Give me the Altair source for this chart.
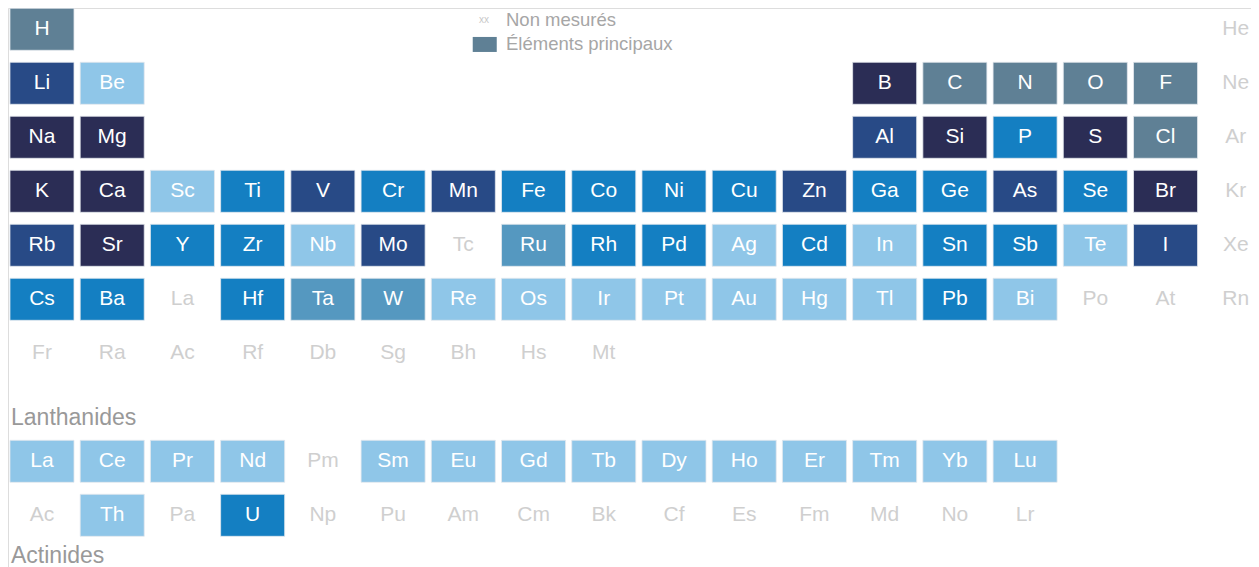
import altair as alt
import pandas as pd

# ---- data -----------------------------------------------------------------
symbols = [
    "H", "He",
    "Li", "Be", "B", "C", "N", "O", "F", "Ne",
    "Na", "Mg", "Al", "Si", "P", "S", "Cl", "Ar",
    "K", "Ca", "Sc", "Ti", "V", "Cr", "Mn", "Fe", "Co", "Ni", "Cu", "Zn", "Ga", "Ge", "As", "Se", "Br", "Kr",
    "Rb", "Sr", "Y", "Zr", "Nb", "Mo", "Tc", "Ru", "Rh", "Pd", "Ag", "Cd", "In", "Sn", "Sb", "Te", "I", "Xe",
    "Cs", "Ba", "La", "Hf", "Ta", "W", "Re", "Os", "Ir", "Pt", "Au", "Hg", "Tl", "Pb", "Bi", "Po", "At", "Rn",
    "Fr", "Ra", "Ac", "Rf", "Db", "Sg", "Bh", "Hs", "Mt",
    "La", "Ce", "Pr", "Nd", "Pm", "Sm", "Eu", "Gd", "Tb", "Dy", "Ho", "Er", "Tm", "Yb", "Lu",
    "Ac", "Th", "Pa", "U", "Np", "Pu", "Am", "Cm", "Bk", "Cf", "Es", "Fm", "Md", "No", "Lr",
]
columns = (
    [1, 18]
    + [1, 2, 13, 14, 15, 16, 17, 18]
    + [1, 2, 13, 14, 15, 16, 17, 18]
    + list(range(1, 19))
    + list(range(1, 19))
    + list(range(1, 19))
    + list(range(1, 10))
    + list(range(1, 16))
    + list(range(1, 16))
)
rows = [1] * 2 + [2] * 8 + [3] * 8 + [4] * 18 + [5] * 18 + [6] * 18 + [7] * 9 + [9] * 15 + [10] * 15
categories = [
    "principal", "nm",
    "c2", "lq", "c1", "principal", "principal", "principal", "principal", "nm",
    "c1", "c1", "c2", "c1", "c3", "c1", "principal", "nm",
    "c1", "c1", "lq", "c3", "c2", "c3", "c2", "c3", "c3", "c3", "c3", "c2", "c3", "c3", "c2", "c3", "c1", "nm",
    "c2", "c1", "c3", "c3", "lq", "c2", "nm", "c4", "c3", "c3", "lq", "c3", "lq", "c3", "c3", "lq", "c2", "nm",
    "c3", "c3", "nm", "c3", "c4", "c4", "lq", "lq", "lq", "lq", "lq", "lq", "lq", "c3", "lq", "nm", "nm", "nm",
    "nm", "nm", "nm", "nm", "nm", "nm", "nm", "nm", "nm",
    "lq", "lq", "lq", "lq", "nm", "lq", "lq", "lq", "lq", "lq", "lq", "lq", "lq", "lq", "lq",
    "nm", "lq", "nm", "c3", "nm", "nm", "nm", "nm", "nm", "nm", "nm", "nm", "nm", "nm", "nm",
]

cat_keys = ["principal", "c1", "c2", "c3", "c4", "lq"]
cat_colors = ["#5f8095", "#2b2d55", "#284a86", "#147fc2", "#5598c0", "#8fc6e8"]

legend_labels = ["< Limite de quantification", "Non mesurés", "Éléments principaux"]
legend_cats = ["lq", "nm", "principal"]
legend_rows = [0.383, 0.828, 1.281]

group_labels = ["Lanthanides", "Actinides"]
group_rows = [8.2, 10.75]

# ---- frames ----------------------------------------------------------------
df = pd.DataFrame({"symbol": symbols, "col": columns, "row": rows, "cat": categories})
df["measured"] = df["cat"] != "nm"

leg = pd.DataFrame({"label": legend_labels, "cat": legend_cats, "row": legend_rows})
grp = pd.DataFrame({"label": group_labels, "row": group_rows})

W, H = 1243, 559
xs = alt.Scale(domain=[0.516, 18.217], nice=False, zero=False)
ys = alt.Scale(domain=[0.606, 10.957], nice=False, zero=False, reverse=True)
cs = alt.Scale(domain=cat_keys, range=cat_colors)

HW, HH = 0.456, 0.389
FONT = "Liberation Sans"

base = alt.Chart(df)

cells = base.transform_filter("datum.measured").transform_calculate(
    x1=f"datum.col - {HW}", x2=f"datum.col + {HW}",
    y1=f"datum.row - {HH}", y2=f"datum.row + {HH}",
).mark_rect(stroke="#e4e8ee", strokeWidth=0.8).encode(
    x=alt.X("x1:Q", scale=xs, axis=None),
    x2="x2:Q",
    y=alt.Y("y1:Q", scale=ys, axis=None),
    y2="y2:Q",
    color=alt.Color("cat:N", scale=cs, legend=None),
)

labels = base.mark_text(font=FONT, fontSize=21, baseline="middle", align="center").encode(
    x=alt.X("col:Q", scale=xs, axis=None),
    y=alt.Y("row:Q", scale=ys, axis=None),
    text="symbol:N",
    color=alt.condition("datum.measured", alt.value("#ffffff"), alt.value("#cfcfcf")),
)

lbase = alt.Chart(leg)
leg_sq = lbase.transform_filter("datum.cat != 'nm'").transform_calculate(
    x1="7.134", x2="7.476", y1="datum.row - 0.139", y2="datum.row + 0.139"
).mark_rect().encode(
    x=alt.X("x1:Q", scale=xs, axis=None),
    x2="x2:Q",
    y=alt.Y("y1:Q", scale=ys, axis=None),
    y2="y2:Q",
    color=alt.Color("cat:N", scale=cs, legend=None),
)
leg_xx = lbase.transform_filter("datum.cat == 'nm'").transform_calculate(
    xc="7.294", mk="'xx'"
).mark_text(font=FONT, fontSize=10, color="#c8c8c8", baseline="middle", align="center").encode(
    x=alt.X("xc:Q", scale=xs, axis=None),
    y=alt.Y("row:Q", scale=ys, axis=None),
    text="mk:N",
)
leg_txt = lbase.transform_calculate(xt="7.608").mark_text(
    font=FONT, fontSize=18.5, color="#a6a6a6", baseline="middle", align="left"
).encode(
    x=alt.X("xt:Q", scale=xs, axis=None),
    y=alt.Y("row:Q", scale=ys, axis=None),
    text="label:N",
)

grp_txt = alt.Chart(grp).transform_calculate(xt="0.559").mark_text(
    font=FONT, fontSize=23, color="#999999", baseline="middle", align="left"
).encode(
    x=alt.X("xt:Q", scale=xs, axis=None),
    y=alt.Y("row:Q", scale=ys, axis=None),
    text="label:N",
)

chart = alt.layer(cells, labels, leg_sq, leg_xx, leg_txt, grp_txt).properties(
    width=W, height=H, autosize=alt.AutoSizeParams(type="none"), padding=0,
).configure_view(stroke="transparent", strokeWidth=0).configure(background="#ffffff")

chart.save("out.html", embed_options={"renderer": "svg", "actions": False})
